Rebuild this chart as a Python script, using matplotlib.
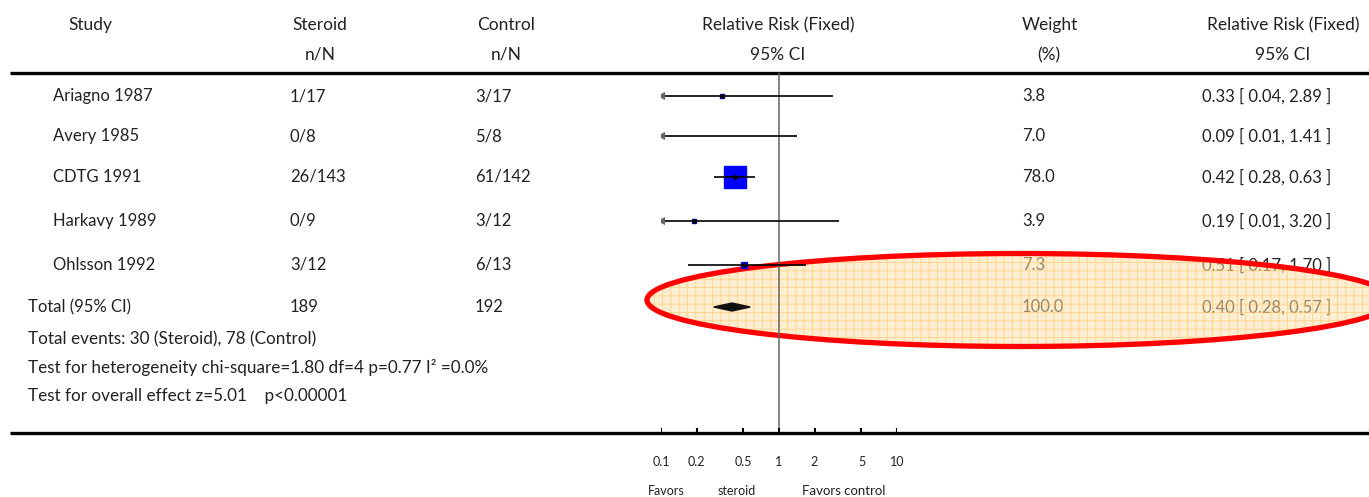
import matplotlib
matplotlib.use("Agg")
import matplotlib.pyplot as plt
from matplotlib.patches import Ellipse
import numpy as np

plt.rcParams['font.family'] = ['Lato', 'DejaVu Sans']
plt.rcParams['hatch.linewidth'] = 0.6

# ---------------- data ----------------
studies = ['Ariagno 1987', 'Avery 1985', 'CDTG 1991', 'Harkavy 1989', 'Ohlsson 1992']
steroid_nN = ['1/17', '0/8', '26/143', '0/9', '3/12']
control_nN = ['3/17', '5/8', '61/142', '3/12', '6/13']
rr = [0.33, 0.09, 0.42, 0.19, 0.51]
rr_lo = [0.04, 0.01, 0.28, 0.01, 0.17]
rr_hi = [2.89, 1.41, 0.63, 3.20, 1.70]
weights = [3.8, 7.0, 78.0, 3.9, 7.3]
ci_text = ['0.33 [ 0.04, 2.89 ]', '0.09 [ 0.01, 1.41 ]', '0.42 [ 0.28, 0.63 ]',
           '0.19 [ 0.01, 3.20 ]', '0.51 [ 0.17, 1.70 ]']

total_steroid = '189'
total_control = '192'
total_rr, total_lo, total_hi = 0.40, 0.28, 0.57
total_weight = '100.0'
total_ci_text = '0.40 [ 0.28, 0.57 ]'

footnotes = ['Total events: 30 (Steroid), 78 (Control)',
             'Test for heterogeneity chi-square=1.80 df=4 p=0.77 I\u00b2 =0.0%',
             'Test for overall effect z=5.01    p<0.00001']

tick_values = [0.1, 0.2, 0.5, 1, 2, 5, 10]
tick_labels = ['0.1', '0.2', '0.5', '1', '2', '5', '10']

# ---------------- layout (pixels) ----------------
W, H = 1369, 497
row_y = [96, 136, 177, 221, 265]
total_y = 307
foot_y = [339, 368, 396]
top_rule, bot_rule = 73, 433
x_study, x_ster, x_ctrl, x_wt, x_ci = 53, 290, 475, 1022, 1202
fs = 12
hfs = 12.5
tc = '#222222'

fig = plt.figure(figsize=(W / 100, H / 100), dpi=100)
ax = fig.add_axes([0, 0, 1, 1])
ax.set_xlim(0, W)
ax.set_ylim(H, 0)
ax.axis('off')

# forest axes: log scale from 0.1 to 10 mapped to pixels 661..897
fx0, fx1 = 661, 897
fax = fig.add_axes([fx0 / W, 0, (fx1 - fx0) / W, 1])
fax.set_xscale('log')
fax.set_xlim(0.1, 10)
fax.set_ylim(H, 0)
fax.axis('off')
fax.patch.set_alpha(0)

# headers
ax.text(68, 25, 'Study', fontsize=hfs, color=tc, va='center', ha='left')
ax.text(320, 25, 'Steroid', fontsize=hfs, color=tc, va='center', ha='center')
ax.text(320, 55, 'n/N', fontsize=hfs, color=tc, va='center', ha='center')
ax.text(506, 25, 'Control', fontsize=hfs, color=tc, va='center', ha='center')
ax.text(506, 55, 'n/N', fontsize=hfs, color=tc, va='center', ha='center')
ax.text(778, 25, 'Relative Risk (Fixed)', fontsize=hfs, color=tc, va='center', ha='center')
ax.text(778, 55, '95% CI', fontsize=hfs, color=tc, va='center', ha='center')
ax.text(1050, 25, 'Weight', fontsize=hfs, color=tc, va='center', ha='center')
ax.text(1049, 55, '(%)', fontsize=hfs, color=tc, va='center', ha='center')
ax.text(1283, 25, 'Relative Risk (Fixed)', fontsize=hfs, color=tc, va='center', ha='center')
ax.text(1283, 55, '95% CI', fontsize=hfs, color=tc, va='center', ha='center')

# rules
ax.hlines([top_rule, bot_rule], 10, W, color='black', lw=2.4)

# study rows
for i, y in enumerate(row_y):
    ax.text(x_study, y, studies[i], fontsize=fs, color=tc, va='center')
    ax.text(x_ster, y, steroid_nN[i], fontsize=fs, color=tc, va='center')
    ax.text(x_ctrl, y, control_nN[i], fontsize=fs, color=tc, va='center')
    ax.text(x_wt, y, f'{weights[i]:.1f}', fontsize=fs, color=tc, va='center')
    ax.text(x_ci, y, ci_text[i], fontsize=fs, color=tc, va='center')

# total rows
ax.text(28, total_y, 'Total (95% CI)', fontsize=fs, color=tc, va='center')
ax.text(x_ster, total_y, total_steroid, fontsize=fs, color=tc, va='center')
ax.text(x_ctrl, total_y, total_control, fontsize=fs, color=tc, va='center')
ax.text(x_wt, total_y, total_weight, fontsize=fs, color=tc, va='center')
ax.text(x_ci, total_y, total_ci_text, fontsize=fs, color=tc, va='center')
for y, t in zip(foot_y, footnotes):
    ax.text(28, y, t, fontsize=12.3, color=tc, va='center')

# forest plot
fax.vlines(1, top_rule, bot_rule, color='#666666', lw=1.1, zorder=1)
xmin = 0.1
max_side_px = 22
for i, y in enumerate(row_y):
    lo = max(rr_lo[i], xmin)
    fax.hlines(y, lo, rr_hi[i], color='black', lw=1.2, zorder=3)
    if rr_lo[i] < xmin:
        fax.plot([xmin], [y], marker='<', ms=6, color='#666666', mew=0, zorder=3)
    if rr[i] >= xmin:
        side = max_side_px * np.sqrt(weights[i] / max(weights)) * 0.72
        fax.plot([rr[i]], [y], marker='s', ms=side, color='#0000ff', mec='#0000ff', zorder=2)
        fax.plot([rr[i]], [y], marker='o', ms=2.5, color='black', zorder=4)

# total diamond
fax.fill([total_lo, total_rr, total_hi, total_rr],
         [total_y, total_y - 4, total_y, total_y + 4], color='#111111', zorder=3)

# axis ticks and labels
fax.vlines(tick_values, bot_rule - 5, bot_rule, color='black', lw=1.5)
for v, lab in zip(tick_values, tick_labels):
    fax.text(v, 462, lab, fontsize=9, color=tc, ha='center', va='center')
fax.text(0.11, 491, 'Favors', fontsize=9, color=tc, ha='center', va='center')
fax.text(0.44, 491, 'steroid', fontsize=9, color=tc, ha='center', va='center')
fax.text(3.55, 491, 'Favors control', fontsize=9.5, color=tc, ha='center', va='center')

# highlight ellipse
ell_center, ell_w, ell_h = (1020, 300), 746, 93
ell_fill = Ellipse(ell_center, ell_w, ell_h, facecolor=(1.0, 0.88, 0.66, 0.52),
                   edgecolor=(1.0, 0.72, 0.25, 0.5), hatch='++', lw=0, zorder=10)
ax.add_patch(ell_fill)
ell_edge = Ellipse(ell_center, ell_w, ell_h, fill=False, edgecolor='#ff0000', lw=3.8, zorder=11)
ax.add_patch(ell_edge)

fig.savefig('out.png', dpi=100)
